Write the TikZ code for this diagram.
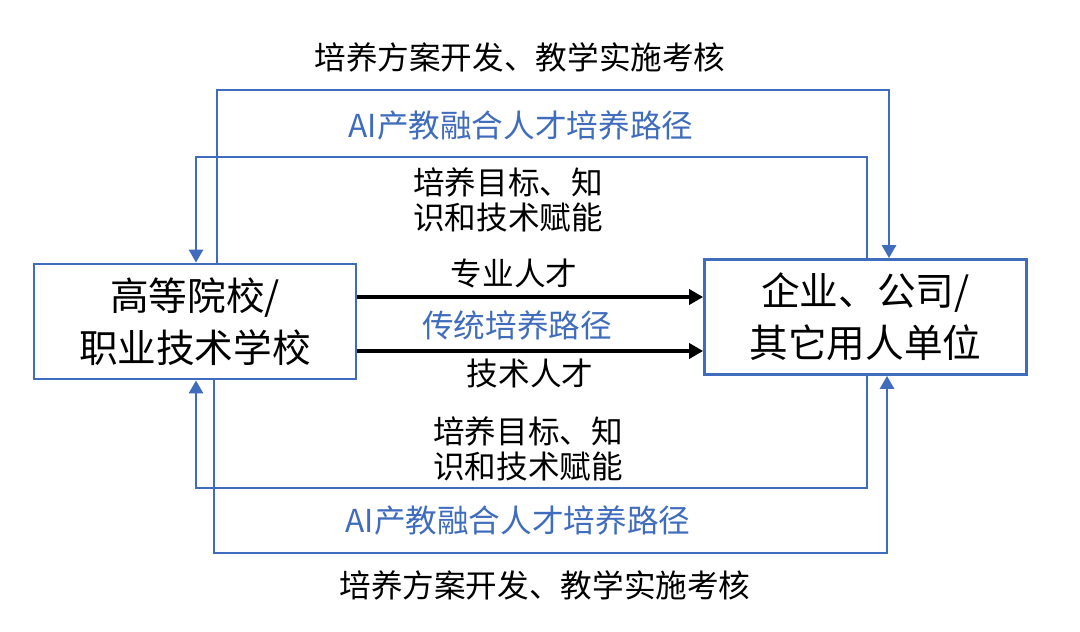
\documentclass[tikz,border=0pt]{standalone}
\usepackage{fontspec}
\setmainfont{Noto Sans CJK SC}
\usetikzlibrary{arrows.meta}
\definecolor{pathblue}{RGB}{63,108,188}
\tikzset{
  unit/.style = {draw=pathblue, line width=1.6pt, minimum width=6.44cm, minimum height=2.3cm,
    align=center, inner sep=0pt, font=\fontsize{22}{29.6}\selectfont},
  flow/.style = {draw=pathblue, line width=1.6pt, -{Triangle[length=0.26cm,width=0.28cm]}},
  talent/.style = {line width=2.5pt, -{Triangle[length=0.28cm,width=0.3cm]}},
  note/.style = {align=center, inner sep=0pt, font=\fontsize{18}{20}\selectfont},
  bluenote/.style = {note, text=pathblue},
}

\begin{document}
\begin{tikzpicture}[x=0.02cm, y=-0.02cm]
\useasboundingbox (0,0) rectangle (1080,632);

% Nodes
\node[unit] (school) at (195,321.5) {高等院校/\\职业技术学校};
\node[unit] (employer) at (865.5,317) {企业、公司/\\其它用人单位};

% Corners of the loops
\coordinate (outTL) at (217,90);
\coordinate (outTR) at (889,90);
\coordinate (inTL) at (196,157);
\coordinate (inTR) at (867,157);
\coordinate (inBL) at (196,488);
\coordinate (inBR) at (867,488);
\coordinate (outBL) at (214,553);
\coordinate (outBR) at (887,553);
\coordinate (major) at (360,297);
\coordinate (tech) at (360,351);

% Arrows
\draw[flow] (school.north -| outTL) -- (outTL) -- (outTR) -- (employer.north -| outTR);
\draw[flow] (employer.north -| inTR) -- (inTR) -- (inTL) -- (school.north -| inTL);
\draw[flow] (employer.south -| inBR) -- (inBR) -- (inBL) -- (school.south -| inBL);
\draw[flow] (school.south -| outBL) -- (outBL) -- (outBR) -- (employer.south -| outBR);
\draw[talent] (school.east |- major) -- (employer.west |- major);
\draw[talent] (school.east |- tech) -- (employer.west |- tech);

% Labels
\node[note] (planTop) at (520,57) {培养方案开发、教学实施考核};
\node[bluenote] (aiTop) at (521,125) {AI产教融合人才培养路径};
\node[note] (goalTop) at (508,200) {培养目标、知\\识和技术赋能};
\node[note] (majorText) at (514,273) {专业人才};
\node[bluenote] (tradText) at (517,325) {传统培养路径};
\node[note] (techText) at (530,373) {技术人才};
\node[note] (goalBot) at (528,449) {培养目标、知\\识和技术赋能};
\node[bluenote] (aiBot) at (518,520) {AI产教融合人才培养路径};
\node[note] (planBot) at (545,585) {培养方案开发、教学实施考核};

\end{tikzpicture}
\end{document}
